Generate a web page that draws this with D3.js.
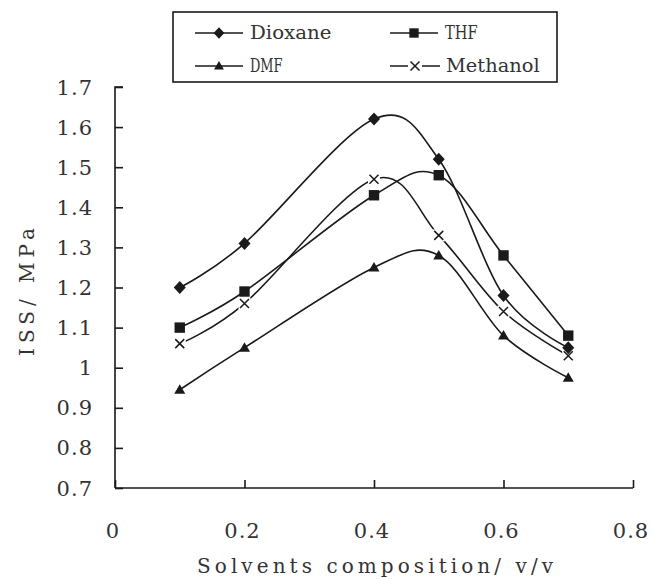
<!DOCTYPE html>
<html><head><meta charset="utf-8">
<script src="https://cdn.jsdelivr.net/npm/d3@7"></script>
<style>body{margin:0;background:#fff}svg{display:block}text{font-family:"DejaVu Serif",serif}</style></head>
<body><svg id="c" width="652" height="579"></svg>
<script>
const xValues = [0.1, 0.2, 0.4, 0.5, 0.6, 0.7];
const dioxane = [1.20, 1.31, 1.62, 1.52, 1.18, 1.05];
const thf = [1.10, 1.19, 1.43, 1.48, 1.28, 1.08];
const dmf = [0.945, 1.05, 1.25, 1.28, 1.08, 0.975];
const methanol = [1.06, 1.16, 1.47, 1.33, 1.14, 1.03];
const seriesNames = ["Dioxane", "THF", "DMF", "Methanol"];
const xTicks = [0, 0.2, 0.4, 0.6, 0.8];
const yTicks = [0.7, 0.8, 0.9, 1.0, 1.1, 1.2, 1.3, 1.4, 1.5, 1.6, 1.7];
const xTitle = "Solvents composition/ v/v";
const yTitle = "ISS/ MPa";

const series = [
  {name: seriesNames[0], values: dioxane, marker: "diamond"},
  {name: seriesNames[1], values: thf, marker: "square"},
  {name: seriesNames[2], values: dmf, marker: "triangle"},
  {name: seriesNames[3], values: methanol, marker: "cross"}
];

const svg = d3.select("#c");
const INK = "#1a1a1a";
const TXT = "#333";
const x = d3.scaleLinear().domain([0, 0.8]).range([115, 633]);
const y = d3.scaleLinear().domain([0.7, 1.7]).range([488, 87]);

const fmt = v => (Math.abs(v - Math.round(v)) < 1e-9 ? String(Math.round(v)) : v.toFixed(1));

// Axes
const yAxis = d3.axisRight(y).tickValues(yTicks).tickSize(8).tickFormat("");
const gy = svg.append("g").attr("transform", "translate(115,0)").call(yAxis);
gy.select(".domain").attr("d", `M8,${y(1.7)}H0V${y(0.7)}`);
const xAxis = d3.axisTop(x).tickValues(xTicks).tickSize(8).tickFormat("");
const gx = svg.append("g").attr("transform", "translate(0,488)").call(xAxis);
gx.select(".domain").attr("d", `M${x(0)},0H${x(0.8)}`);
svg.selectAll(".domain, .tick line").attr("stroke", INK).attr("stroke-width", 1.6);

// Tick labels
svg.append("g").selectAll("text").data(yTicks).join("text")
  .attr("x", 93).attr("y", d => y(d)).attr("dy", "0.36em")
  .attr("text-anchor", "end").attr("font-size", 21)
  .attr("letter-spacing", 1).attr("fill", TXT).text(fmt);
svg.append("g").selectAll("text").data(xTicks).join("text")
  .attr("x", d => x(d) - 2).attr("y", 530).attr("dy", "0.36em")
  .attr("text-anchor", "middle").attr("font-size", 21)
  .attr("letter-spacing", 1).attr("fill", TXT).text(fmt);

// Axis titles
svg.append("text").attr("x", 375).attr("y", 566).attr("dy", "0.36em")
  .attr("text-anchor", "middle").attr("font-size", 20)
  .attr("textLength", 356).attr("lengthAdjust", "spacing").attr("fill", TXT).text(xTitle);
svg.append("text").attr("transform", "translate(27,292) rotate(-90)").attr("dy", "0.36em")
  .attr("text-anchor", "middle").attr("font-size", 20)
  .attr("textLength", 128).attr("lengthAdjust", "spacing").attr("fill", TXT).text(yTitle);

// Markers
function drawMarker(g, type, cx, cy, s) {
  if (type === "diamond") {
    g.append("path").attr("d", `M${cx},${cy - s * 6.5}L${cx + s * 6},${cy}L${cx},${cy + s * 6.5}L${cx - s * 6},${cy}Z`).attr("fill", INK);
  } else if (type === "square") {
    g.append("rect").attr("x", cx - s * 5.2).attr("y", cy - s * 5.2).attr("width", s * 10.4).attr("height", s * 10.4).attr("fill", INK);
  } else if (type === "triangle") {
    g.append("path").attr("d", `M${cx},${cy - s * 5.5}L${cx + s * 5.5},${cy + s * 4}L${cx - s * 5.5},${cy + s * 4}Z`).attr("fill", INK);
  } else {
    g.append("rect").attr("x", cx - 6).attr("y", cy - 6).attr("width", 12).attr("height", 12).attr("fill", "#fff");
    g.append("path").attr("d", `M${cx - 4.5},${cy - 4.5}L${cx + 4.5},${cy + 4.5}M${cx - 4.5},${cy + 4.5}L${cx + 4.5},${cy - 4.5}`)
      .attr("stroke", INK).attr("stroke-width", 1.5);
  }
}

const line = d3.line().x(d => x(d[0])).y(d => y(d[1])).curve(d3.curveCardinal.tension(0));
const order = [3, 0, 1, 2];
order.forEach(i => {
  const s = series[i];
  const pts = xValues.map((xv, j) => [xv, s.values[j]]);
  const g = svg.append("g");
  g.append("path").attr("d", line(pts)).attr("fill", "none").attr("stroke", INK).attr("stroke-width", 1.6);
  pts.forEach(p => drawMarker(g, s.marker, x(p[0]), y(p[1]), 1));
});

// Legend
const lg = svg.append("g");
lg.append("rect").attr("x", 173).attr("y", 12).attr("width", 384).attr("height", 70)
  .attr("fill", "#fff").attr("stroke", INK).attr("stroke-width", 1.6);
const legPos = [[195, 33], [390, 33], [195, 66], [390, 66]];
series.forEach((s, i) => {
  const [lx, ly] = legPos[i];
  const g = lg.append("g");
  if (s.marker === "cross") {
    g.append("path").attr("d", `M${lx},${ly}H${lx + 18}M${lx + 32},${ly}H${lx + 50}`).attr("stroke", INK).attr("stroke-width", 1.6);
    drawMarker(g, s.marker, lx + 25, ly, 1);
  } else {
    g.append("line").attr("x1", lx).attr("x2", lx + 48).attr("y1", ly).attr("y2", ly).attr("stroke", INK).attr("stroke-width", 1.6);
    drawMarker(g, s.marker, lx + 24, ly, 0.9);
  }
  g.append("text").attr("x", s.marker === "cross" ? lx + 56 : lx + 55).attr("y", ly).attr("dy", "0.36em")
    .attr("font-size", 18)
    .attr("textLength", s.name.length * 12.2 - 4).attr("lengthAdjust", "spacingAndGlyphs")
    .attr("fill", TXT).text(s.name);
});
</script></body></html>
